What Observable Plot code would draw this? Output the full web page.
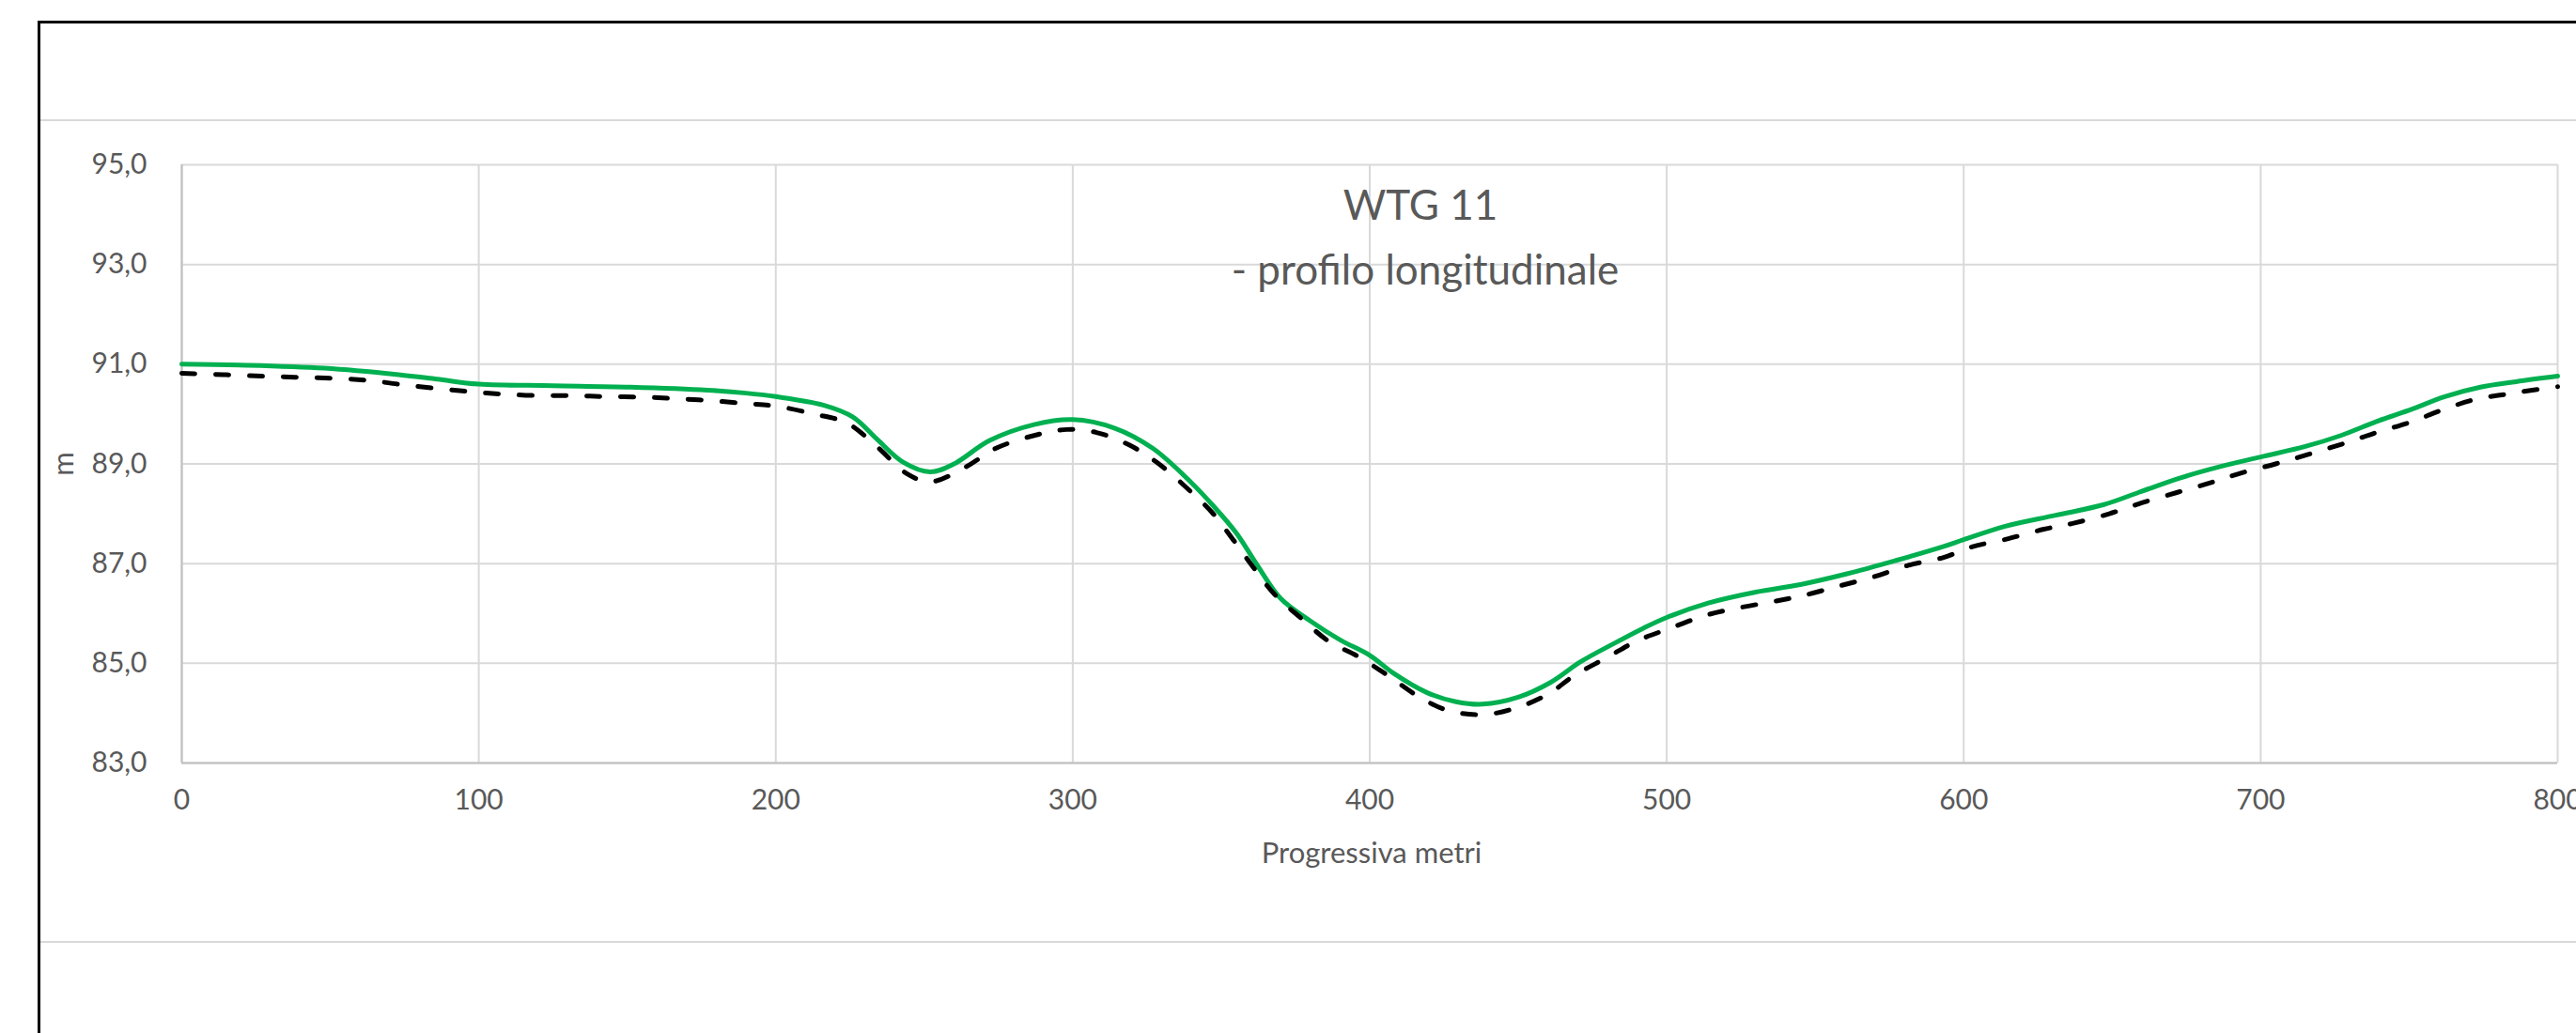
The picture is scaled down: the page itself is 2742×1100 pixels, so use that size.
<!DOCTYPE html>
<html><head><meta charset="utf-8">
<script src="https://cdn.jsdelivr.net/npm/d3@7"></script>
<script src="https://cdn.jsdelivr.net/npm/@observablehq/plot@0.6"></script>
<style>
html,body{margin:0;padding:0;background:#fff;overflow:hidden;}
#wrap{position:relative;width:2742px;height:1100px;font-family:Lato,"Open Sans",sans-serif;color:#595959;overflow:hidden;}
#chart{position:absolute;left:0;top:0;}
.frame{position:absolute;left:40px;top:22px;width:2800px;height:1200px;border-top:3px solid #000;border-left:3px solid #000;}
.hline{position:absolute;left:43px;width:2800px;height:2px;background:#d9d9d9;}
.txt{position:absolute;white-space:nowrap;line-height:1;}
</style></head><body>
<div id="wrap">
  <div id="chart"></div>
  <div class="frame"></div>
  <div class="hline" style="top:127px"></div>
  <div class="hline" style="top:1002px"></div>
  <div class="txt" id="t1" style="left:1512px;top:195px;font-size:44px;transform:translateX(-50%)"></div>
  <div class="txt" id="t2" style="left:1517px;top:264px;font-size:44px;transform:translateX(-50%)"></div>
  <div class="txt" id="xl" style="left:1460px;top:892px;font-size:31px;transform:translateX(-50%)"></div>
  <div class="txt" id="yl" style="left:66px;top:494px;font-size:31px;transform:translate(-50%,-50%) rotate(-90deg)"></div>
</div>
<script>
// --- data ---
const titleLine1 = "WTG 11";
const titleLine2 = "- profilo longitudinale";
const xLabel = "Progressiva metri";
const yLabel = "m";
const xTicks = [0, 100, 200, 300, 400, 500, 600, 700, 800];
const yTicks = [83, 85, 87, 89, 91, 93, 95];

const greenX = [0, 22, 48, 73, 86, 100, 125, 151, 177, 190, 200, 216, 226, 234, 243, 252, 260, 272, 287, 300, 314, 327, 340, 347, 355, 362, 370, 380, 390, 400, 408, 419, 429, 438, 450, 461, 471, 482, 492, 500, 514, 530, 545, 561, 577, 593, 600, 614, 631, 647, 659, 673, 686, 700, 715, 727, 739, 751, 762, 774, 786, 800];
const greenY = [91.00, 90.98, 90.92, 90.79, 90.70, 90.60, 90.57, 90.54, 90.48, 90.42, 90.35, 90.18, 89.94, 89.50, 89.03, 88.84, 89.00, 89.47, 89.79, 89.89, 89.72, 89.31, 88.62, 88.18, 87.62, 86.98, 86.30, 85.85, 85.47, 85.16, 84.80, 84.42, 84.23, 84.18, 84.32, 84.62, 85.03, 85.39, 85.70, 85.92, 86.21, 86.43, 86.58, 86.80, 87.06, 87.34, 87.48, 87.75, 87.97, 88.18, 88.43, 88.72, 88.94, 89.14, 89.35, 89.57, 89.85, 90.10, 90.35, 90.54, 90.65, 90.76];

const dashX = [0, 14, 27, 38, 50, 62, 73, 85, 97, 108, 120, 132, 143, 155, 166, 178, 190, 200, 213, 224, 234, 244, 252, 264, 274, 287, 298, 308, 319, 329, 340, 347, 354, 361, 368, 377, 386, 396, 406, 416, 426, 438, 449, 460, 469, 480, 490, 501, 513, 524, 536, 546, 558, 570, 581, 593, 603, 615, 627, 637, 649, 660, 672, 683, 693, 705, 716, 728, 739, 751, 761, 772, 784, 796, 800];
const dashY = [90.82, 90.79, 90.76, 90.74, 90.72, 90.68, 90.60, 90.52, 90.45, 90.40, 90.37, 90.37, 90.35, 90.34, 90.31, 90.27, 90.21, 90.16, 90.00, 89.82, 89.35, 88.81, 88.64, 88.94, 89.31, 89.57, 89.69, 89.63, 89.38, 89.00, 88.43, 88.02, 87.48, 86.91, 86.38, 85.90, 85.45, 85.14, 84.76, 84.35, 84.06, 83.97, 84.10, 84.38, 84.76, 85.12, 85.45, 85.70, 85.96, 86.11, 86.24, 86.36, 86.55, 86.74, 86.96, 87.12, 87.34, 87.50, 87.69, 87.81, 88.00, 88.22, 88.43, 88.62, 88.81, 89.00, 89.19, 89.41, 89.63, 89.85, 90.08, 90.29, 90.41, 90.52, 90.55];

// --- build ---
const green = greenX.map((x, i) => ({x, y: greenY[i]}));
const dashed = dashX.map((x, i) => ({x, y: dashY[i]}));

const chart = Plot.plot({
  width: 2742,
  height: 1100,
  marginLeft: 193,
  marginRight: 20,
  marginTop: 175,
  marginBottom: 288,
  style: {fontFamily: "Lato, 'Open Sans', sans-serif", fontSize: "30px", color: "#595959", background: "transparent", overflow: "visible"},
  x: {domain: [0, 800], ticks: xTicks, tickFormat: d => String(d), tickSize: 0, tickPadding: 28, label: null},
  y: {domain: [83, 95], ticks: yTicks, tickFormat: d => d.toFixed(1).replace(".", ","), tickSize: 0, tickPadding: 37, label: null},
  marks: [
    Plot.ruleX(xTicks, {stroke: "#d9d9d9", strokeWidth: 2}),
    Plot.ruleY(yTicks, {stroke: "#d9d9d9", strokeWidth: 2}),
    Plot.ruleX([0], {stroke: "#bfbfbf", strokeWidth: 2}),
    Plot.ruleY([83], {stroke: "#bfbfbf", strokeWidth: 2}),
    Plot.line(green, {x: "x", y: "y", stroke: "#00b050", strokeWidth: 5, curve: "catmull-rom"}),
    Plot.line(dashed, {x: "x", y: "y", stroke: "#000000", strokeWidth: 5, strokeDasharray: "14,22", strokeLinecap: "round", curve: "catmull-rom"})
  ]
});
document.getElementById("chart").appendChild(chart);
document.getElementById("t1").textContent = titleLine1;
document.getElementById("t2").textContent = titleLine2;
document.getElementById("xl").textContent = xLabel;
document.getElementById("yl").textContent = yLabel;
</script>
</body></html>
